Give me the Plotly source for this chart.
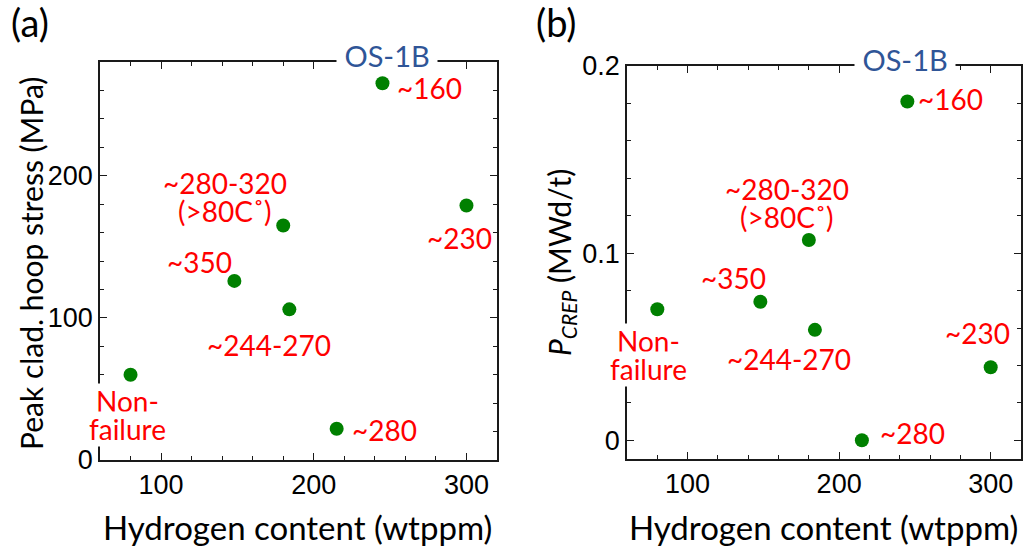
import plotly.graph_objects as go

# ---------------- data ----------------
h_content = [80, 148, 180, 184, 215, 245, 300]            # Hydrogen content (wtppm)
hoop_stress = [60, 126, 165, 106, 22, 265, 179]            # Peak clad. hoop stress (MPa)
p_crep = [0.070, 0.074, 0.107, 0.059, 0.000, 0.181, 0.039]  # P_CREP (MWd/t)
point_labels = ["Non-<br>failure", "~350", "~280-320<br>(>80C˚)", "~244-270",
                "~280", "~160", "~230"]

x_ticks = [100, 200, 300]
ya_ticks = [0, 100, 200]
yb_ticks = [0, 0.1, 0.2]
yb_ticktext = ["0", "0.1", "0.2"]

# label offsets (pixels) relative to each point: (dx, dy_up)
offs_a = [(-3, -40), (-35, 19), (-58, 28), (-20, -36), (48, -1), (47, -5), (-7, -32)]
offs_b = [(-9, -46), (-27, 24), (-22, 37), (-26, -29), (51, 7), (43, 3), (-13, 34)]

W, H = 1023, 552
GREEN = "#008000"
RED = "#FF0000"
BLUE = "#2F5597"
LBL_FONT = "Lato"
TICK_FONT = "Liberation Sans"

fig = go.Figure()
fig.add_trace(go.Scatter(x=h_content, y=hoop_stress, mode="markers",
                         marker=dict(size=14, color=GREEN, line=dict(width=0)),
                         xaxis="x", yaxis="y", showlegend=False, hoverinfo="skip"))
fig.add_trace(go.Scatter(x=h_content, y=p_crep, mode="markers",
                         marker=dict(size=14, color=GREEN, line=dict(width=0)),
                         xaxis="x2", yaxis="y2", showlegend=False, hoverinfo="skip"))


def px_dom(x0, x1):
    return [x0 / W, x1 / W]


def py_dom(ytop, ybot):
    return [1 - ybot / H, 1 - ytop / H]


AX_COL = "#1a1a1a"
axis_common = dict(showline=True, linecolor=AX_COL, linewidth=1.5, mirror="allticks",
                   ticks="inside", ticklen=7, tickwidth=1.3, tickcolor=AX_COL,
                   showgrid=False, zeroline=False, automargin=False,
                   tickfont=dict(family=TICK_FONT, size=27, color="black"))


def minor(dt):
    return dict(dtick=dt, tick0=0, ticks="inside", ticklen=4, tickwidth=1.3, tickcolor=AX_COL,
                showgrid=False)


fig.update_layout(
    template="none",
    width=W, height=H, margin=dict(l=0, r=0, t=0, b=0, autoexpand=False),
    plot_bgcolor="white", paper_bgcolor="white", showlegend=False,
    xaxis=dict(domain=px_dom(100, 497), range=[60, 320], tickvals=x_ticks,
               minor=minor(20), anchor="y", **axis_common),
    yaxis=dict(domain=py_dom(62, 460), range=[0, 280], tickvals=ya_ticks,
               minor=minor(20), anchor="x", **axis_common),
    xaxis2=dict(domain=px_dom(627, 1021), range=[60, 320], tickvals=x_ticks,
                minor=minor(20), anchor="y2", **axis_common),
    yaxis2=dict(domain=py_dom(66, 459), range=[-0.01, 0.2], tickvals=yb_ticks,
                ticktext=yb_ticktext, minor=minor(0.02), anchor="x2", **axis_common),
)

ann = []
LINE_SP = 28


def add_labels(xs, ys, xref, yref, offs):
    for x, y, t, (dx, dy) in zip(xs, ys, point_labels, offs):
        lines = t.split("<br>")
        n = len(lines)
        bg = "white" if t.startswith("Non") else None
        for i, ln in enumerate(lines):
            shift = dy + (n - 1) * LINE_SP / 2 - i * LINE_SP
            a = dict(x=x, y=y, xref=xref, yref=yref, text=ln, showarrow=False,
                     xshift=dx, yshift=shift, xanchor="center", yanchor="middle",
                     font=dict(family=LBL_FONT, size=28, color=RED), borderpad=0)
            if bg:
                a["bgcolor"] = bg
            ann.append(a)


add_labels(h_content, hoop_stress, "x", "y", offs_a)
add_labels(h_content, p_crep, "x2", "y2", offs_b)


def paper_text(px, py, text, size=28, color="black", angle=0, bg=None, pad=1):
    d = dict(x=px / W, y=1 - py / H, xref="paper", yref="paper", text=text,
             showarrow=False, xanchor="center", yanchor="middle", textangle=angle,
             font=dict(family=LBL_FONT, size=size, color=color), borderpad=pad)
    if bg:
        d["bgcolor"] = bg
    ann.append(d)


# OS-1B tags (white background over top frame)
paper_text(387, 55, "&nbsp;OS-1B&nbsp;", size=29, color=BLUE, bg="white", pad=0)
paper_text(905, 59, "&nbsp;OS-1B&nbsp;", size=29, color=BLUE, bg="white", pad=0)

# axis titles
paper_text(297, 527, "Hydrogen content (wtppm)", size=33)
paper_text(823, 527, "Hydrogen content (wtppm)", size=33)
paper_text(31, 264, "Peak clad. hoop stress (MPa)", size=30, angle=-90)
paper_text(561, 263, "<i>P</i><sub><i>CREP</i></sub> (MWd/t)", size=30, angle=-90)

# panel letters
paper_text(30, 22, "(a)", size=38)
paper_text(556, 22, "(b)", size=38)

fig.update_layout(annotations=ann)
fig.write_html("out.html")
